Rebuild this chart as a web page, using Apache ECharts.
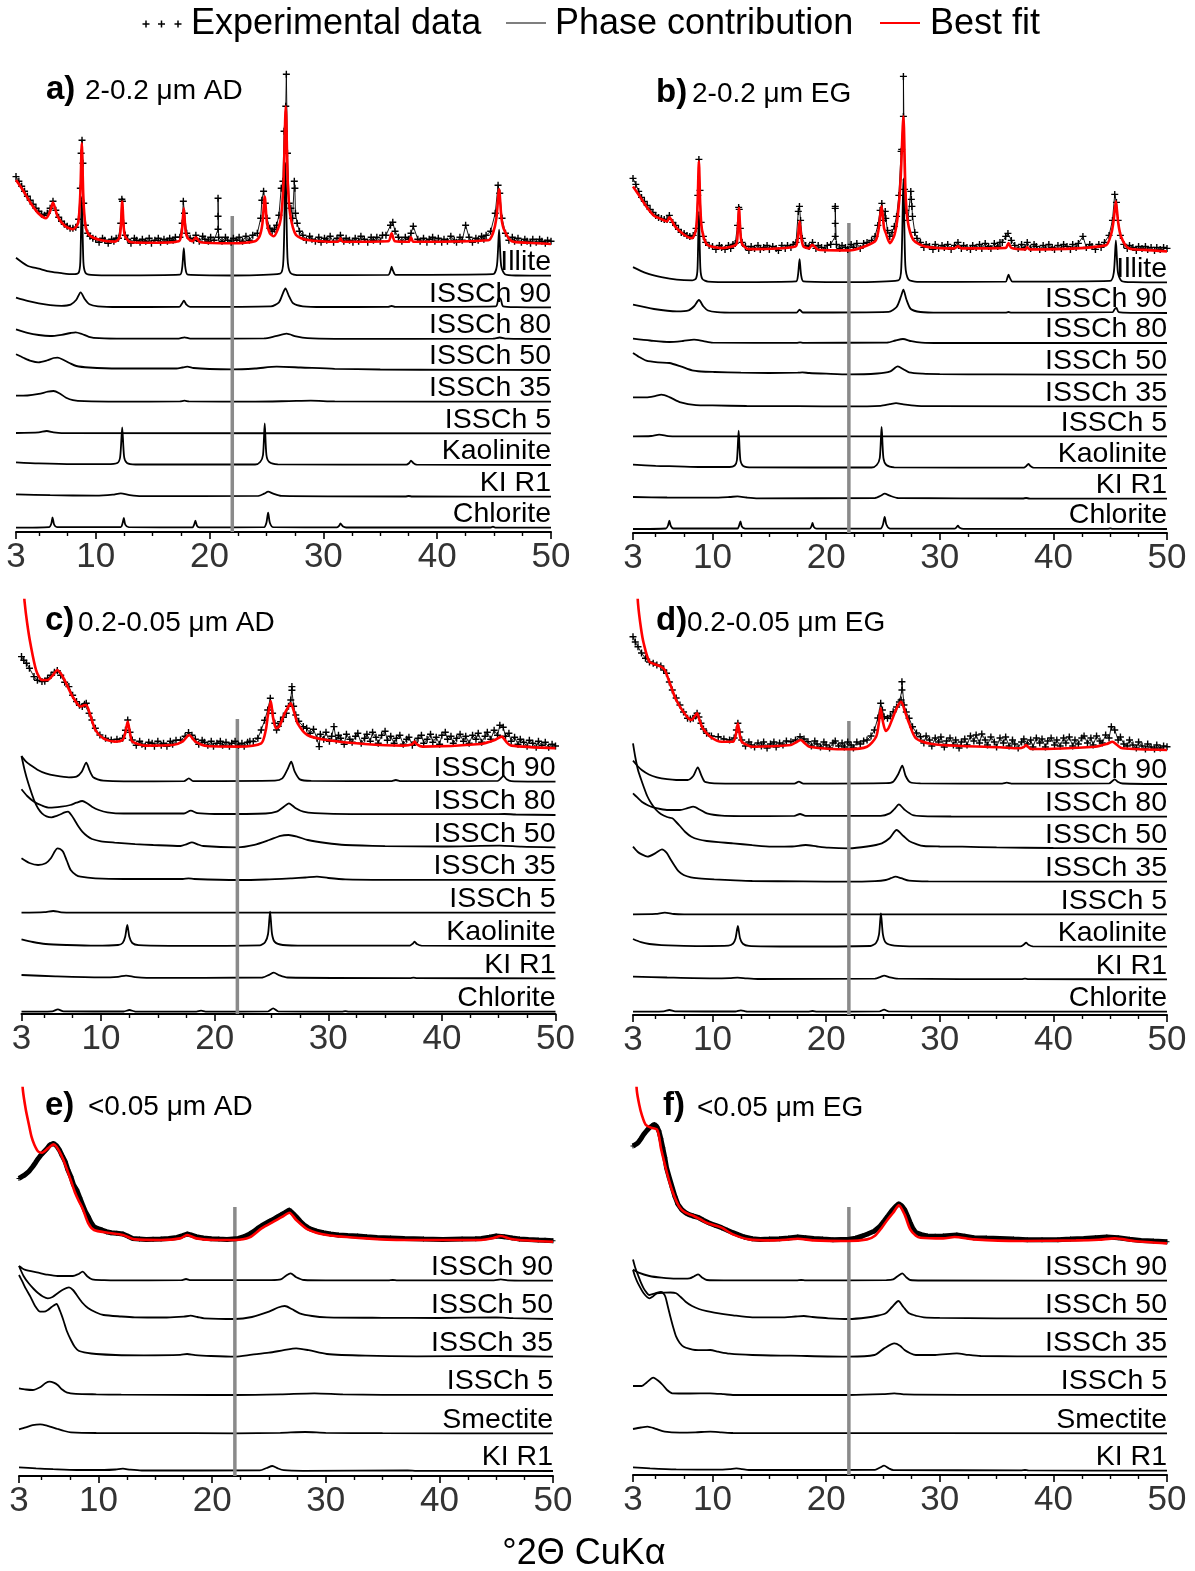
<!DOCTYPE html>
<html><head><meta charset="utf-8">
<script src="https://cdn.jsdelivr.net/npm/echarts@6/dist/echarts.min.js"></script>
<style>html,body{margin:0;padding:0;background:#fff;}#c{width:1195px;height:1571px;}</style>
</head><body><div id="c"></div>
<script>
// ---------- axis ticks ----------
const tickLabels = [3, 10, 20, 30, 40, 50];
const majorTicks = [3, 10, 20, 30, 40, 50];
const minorTicks = [5, 7.5, 12.5, 15, 17.5, 22.5, 25, 27.5, 32.5, 35, 37.5, 42.5, 45, 47.5];
const refLineX = 22;

// ---------- phase names ----------
const namesAB = ['Illite', 'ISSCh 90', 'ISSCh 80', 'ISSCh 50', 'ISSCh 35', 'ISSCh 5', 'Kaolinite', 'KI R1', 'Chlorite'];
const namesCD = ['ISSCh 90', 'ISSCh 80', 'ISSCh 50', 'ISSCh 35', 'ISSCh 5', 'Kaolinite', 'KI R1', 'Chlorite'];
const namesEF = ['ISSCh 90', 'ISSCh 50', 'ISSCh 35', 'ISSCh 5', 'Smectite', 'KI R1'];
const titles = [['a)', '2-0.2 μm AD'], ['b)', '2-0.2 μm EG'], ['c)', '0.2-0.05 μm AD'], ['d)', '0.2-0.05 μm EG'], ['e)', '<0.05 μm AD'], ['f)', '<0.05 μm EG']];

// ---------- stacking offsets (intensity units) ----------
const offsetsA = [256.3, 224.7, 193, 162, 130.3, 98.7, 67, 35.3, 4.3];
const offsetsB = [250.6, 220, 190, 158.3, 126.6, 96.6, 65, 34.3, 4];
const offsetsC = [232.3, 199, 166.7, 134, 101.3, 68, 35.7, 2.3];
const offsetsD = [231, 198.3, 166, 133.3, 100.7, 68.3, 35.7, 3.3];
const offsetsE = [195.3, 157, 119.3, 81, 42.7, 5];
const offsetsF = [194.3, 156, 118.3, 80, 41.7, 4.3];
const fitOffsets = [288.7, 282.6, 265.7, 265, 234.3, 232.3];
const refTops = [316, 310, 295, 294, 269, 268];

// ---------- panel a ----------
const illiteA = [[3,18],[4,10],[5,7],[6,4],[7,2.5],[8,1.5],[8.5,3],[8.65,14],[8.78,79],[8.92,14],[9.1,3],[9.6,0.8],[12,0.3],[17.4,1],[17.6,8],[17.74,27.5],[17.88,8],[18.1,1],[22,0.2],[26.2,2],[26.5,18],[26.67,113],[26.85,18],[27.1,3],[28,0.5],[35.7,0.8],[35.9,5],[36,9],[36.12,5],[36.35,0.8],[44.9,1.5],[45.25,10],[45.44,46],[45.62,10],[45.95,1.5],[47,0.2],[50,0]];
const issch90A = [[3,9.7],[4,6.5],[5,4],[6,2.2],[7,1.5],[7.8,2.7],[8.3,7.5],[8.68,15],[9.05,8],[9.45,3],[10.2,1],[12,0.3],[17.35,0.5],[17.6,4],[17.75,6.7],[17.95,3],[18.3,0.5],[25.4,1],[26.1,5],[26.45,14],[26.67,19],[26.95,12],[27.35,4],[28.2,1],[30,0.3],[35.7,0.4],[36,1.3],[36.3,0.4],[45.15,1],[45.4,9],[45.55,9],[45.8,1],[47,0.2],[50,0]];
const issch80A = [[3,9.7],[4,6.2],[5,4],[6,3],[7,4.2],[7.8,6],[8.24,6.7],[8.8,5],[9.4,2.2],[10.3,0.8],[12.5,0.3],[17.3,0.4],[17.8,1.7],[18.3,0.4],[24.8,0.6],[25.8,2.8],[26.77,5.3],[27.6,2.6],[28.6,0.8],[31,0.2],[44.9,0.3],[45.5,1.5],[46.1,0.3],[50,0]];
const issch50A = [[3,15.7],[3.7,12],[4.3,9.2],[4.96,7.7],[5.7,9.5],[6.3,12],[6.65,12.3],[7.1,10.5],[7.7,7],[8.3,4],[9.4,2.5],[12,1.5],[17.1,1.5],[17.6,2.5],[18.05,3.3],[18.6,2],[20,1],[22,0.6],[24,1.5],[25.9,3.3],[28,2.5],[31,1.2],[35,0.5],[42,0.1],[50,0]];
const issch35A = [[3,6],[4,6.2],[5,7.8],[5.8,10],[6.3,10.7],[6.8,8.5],[7.4,4],[8,1.5],[9,0.5],[12,0.1],[17.4,0.3],[17.8,1],[18.2,0.3],[24,0.1],[27,0.6],[28.9,1],[31,0.3],[50,0]];
const issch5A = [[3,0.3],[5,1],[5.7,2.3],[6.3,1],[7,0.2],[50,0]];
const kaolA = [[3,2.7],[5,1.6],[8,0.8],[11,0.8],[11.9,2],[12.15,8],[12.33,37.7],[12.5,8],[12.75,2],[13.5,0.5],[24,0.5],[24.45,3],[24.7,10],[24.85,41.7],[25,10],[25.25,3],[26,0.7],[37.3,0.3],[37.55,2],[37.7,4.3],[37.9,2],[38.2,0.3],[50,0]];
const klr1A = [[3,2.3],[6,1.5],[10,1],[11.5,2],[12.2,3.3],[13,1.6],[14,0.5],[24.3,0.8],[24.8,3],[25.15,5],[25.6,3],[26.3,0.8],[37.2,0.2],[37.5,0.7],[37.8,0.2],[50,0]];
const chloriteA = [[3,0],[5.9,0.5],[6.1,4],[6.21,10.3],[6.35,3],[6.6,0.5],[12.2,0.5],[12.35,4],[12.47,9.7],[12.6,3],[12.9,0.5],[18.5,0.3],[18.65,3],[18.76,7],[18.9,2],[19.1,0.3],[24.8,0.5],[25,5],[25.15,15],[25.3,5],[25.6,0.5],[31.2,0.3],[31.4,2],[31.5,4.3],[31.7,1.5],[32,0.2],[44.7,0.2],[44.9,1],[45.1,0.2],[50,0]];
const fitA = [[3,63.3],[3.6,53.3],[4.3,40],[4.96,30],[5.64,25],[6,32],[6.25,40.7],[6.65,27],[7.33,17],[8,14],[8.45,20],[8.65,50],[8.78,100],[8.92,45],[9.1,18],[9.42,8.3],[10.4,3.3],[11.7,1.7],[12.06,5],[12.2,15],[12.33,41.7],[12.47,15],[12.6,6.7],[13.1,1],[15,0.5],[17.3,2],[17.55,10],[17.74,35],[17.9,12],[18.1,5],[18.5,2],[18.8,6],[19.2,1],[22,0],[24,2],[24.4,7],[24.65,20],[24.85,46.7],[25.05,20],[25.3,10],[25.65,7],[26,14],[26.27,25],[26.5,60],[26.7,137],[26.88,60],[27.1,28],[27.6,8.3],[28.6,3.3],[31.3,1.5],[31.5,5],[31.7,1.5],[35.7,2],[36,10],[36.3,2],[37.5,1.5],[37.7,6],[37.9,1.5],[44.5,3],[44.9,10],[45.2,25],[45.44,54],[45.65,25],[45.9,13],[46.56,2],[48,0.5],[50,-0.7]];
const expA = [[3,66.7],[3.25,62],[3.5,57],[3.75,52],[4,47],[4.25,43],[4.5,39],[4.75,35],[5,32],[5.25,29],[5.5,28],[5.75,30],[6,35],[6.25,42],[6.5,33],[6.75,26],[7,22],[7.25,19],[7.5,17],[7.75,15],[8,15],[8.25,16],[8.5,24],[8.65,55],[8.72,90],[8.8,103],[8.88,80],[8.95,40],[9.1,18],[9.3,10],[9.5,7],[9.75,5],[10,4],[10.3,1],[10.6,5],[10.8,3],[11.1,0],[11.4,4],[11.6,2],[11.8,5],[12,5],[12.2,20],[12.3,44],[12.35,42],[12.45,20],[12.6,8],[12.8,4],[13.1,0],[13.4,5],[13.6,3],[13.9,1],[14.1,4],[14.4,2],[14.7,5],[14.9,0],[15.2,3],[15.5,5],[15.7,1],[16,4],[16.3,2],[16.5,5],[16.8,3],[17,6],[17.4,6],[17.6,20],[17.7,42],[17.8,30],[18,10],[18.3,5],[18.6,3],[18.8,8],[19.1,2],[19.4,7],[19.6,4],[19.9,2],[20.1,6],[20.4,3],[20.75,14],[20.75,27],[20.75,45],[20.8,6],[21.1,2],[21.4,6],[21.6,3],[21.9,1],[22.1,5],[22.4,3],[22.6,6],[22.9,2],[23.2,7],[23.5,3],[23.8,8],[24.2,10],[24.5,25],[24.6,43],[24.75,52],[24.9,40],[25.05,25],[25.3,15],[25.5,12],[25.7,14],[25.9,18],[26.1,28],[26.3,55],[26.45,62],[26.55,112],[26.7,137],[26.75,169],[26.85,90],[27,40],[27.15,35],[27.3,25],[27.45,62],[27.5,55],[27.55,30],[27.7,20],[27.9,12],[28.2,8],[28.5,3],[28.8,7],[29,4],[29.3,2],[29.6,6],[29.8,1],[30.1,5],[30.3,3],[30.6,7],[30.9,1],[31.2,5],[31.5,8],[31.8,2],[32,5],[32.3,3],[32.6,1],[32.8,5],[33.1,2],[33.3,7],[33.6,4],[33.9,1],[34.2,6],[34.4,3],[34.7,6],[35,2],[35.2,8],[35.5,8],[35.9,18],[36.1,21],[36.3,12],[36.6,6],[36.9,2],[37.2,6],[37.5,4],[37.7,10],[37.9,17],[38.3,4],[38.5,2],[38.8,5],[39.1,1],[39.3,4],[39.6,6],[39.8,2],[40.1,5],[40.4,1],[40.6,4],[40.9,2],[41.2,7],[41.5,3],[41.7,1],[42,6],[42.2,3],[42.5,18],[42.8,6],[43.1,1],[43.4,5],[43.6,3],[43.9,7],[44.1,4],[44.3,8],[44.7,12],[45.1,30],[45.35,58],[45.5,50],[45.7,25],[46,10],[46.3,3],[46.6,6],[46.8,2],[47.1,5],[47.4,1],[47.7,4],[47.9,2],[48.2,0],[48.4,4],[48.7,1],[49,4],[49.2,2],[49.5,0],[49.7,3],[50,2]];

// ---------- panel b ----------
const illiteB = [[3,15.3],[4.17,9.3],[5.5,5.3],[6.86,2.7],[8.2,2],[8.55,4],[8.68,14],[8.8,71],[8.93,14],[9.1,3.5],[9.6,0.8],[12,0.3],[17.35,1],[17.52,7],[17.66,23.3],[17.8,7],[18,1],[22,0.2],[26.35,2],[26.62,17],[26.8,104],[26.97,17],[27.25,3],[28,0.5],[35.8,0.8],[35.95,4.5],[36.05,7.7],[36.17,4.5],[36.4,0.8],[45,1.5],[45.32,10],[45.5,42],[45.68,10],[46,1.5],[47,0.2],[50,0]];
const issch90B = [[3,8.3],[4.85,4],[6.86,1.7],[7.9,2.7],[8.4,7],[8.8,13],[9.2,6.5],[9.6,2.5],[10.4,0.8],[12,0.3],[17.4,0.5],[17.66,3.3],[17.95,0.5],[25.5,1.2],[26.2,6],[26.6,17],[26.8,23.3],[27.05,14],[27.45,4],[28.3,1],[30,0.3],[35.8,0.4],[36.05,1],[36.3,0.4],[45.2,0.8],[45.4,4],[45.55,5],[45.75,0.8],[47,0.2],[50,0]];
const issch80B = [[3,4.3],[4.5,2.5],[6.2,1],[7.4,2],[8.37,3.3],[9.2,1.8],[10,0.3],[17.4,0.2],[17.7,0.7],[18,0.2],[25.4,0.5],[26.1,2.5],[26.76,4],[27.5,1.8],[28.4,0.4],[30,0],[50,0]];
const issch50B = [[3,21.7],[3.5,18],[4.17,14],[5.2,12.3],[6.2,11.7],[7.2,8.3],[8.2,4.3],[9,3.2],[10.2,2.7],[12.5,2],[15,1.7],[17.5,2],[17.9,2.3],[18.5,1.7],[20,1],[22,0.3],[24.5,1.2],[25.65,3.3],[26.3,8.3],[26.8,5.5],[27.3,2.3],[28.5,1],[30,0.6],[35,0.3],[50,0]];
const issch35B = [[3,9],[4.17,9],[5,10.5],[5.5,11.7],[6.2,9.3],[7.2,4],[8.54,1.3],[10,1],[13,0.4],[17.5,0.2],[22,0],[24.8,0.6],[25.6,2.2],[26.15,3.3],[26.8,2],[28,0.6],[30,0.2],[50,0]];
const issch5B = [[3,0],[4.6,0.4],[5.3,1.7],[6.1,0.3],[7,0],[50,0]];
const kaolB = [[3,3.3],[5,2.2],[6.86,1.7],[9,1],[11.5,1],[11.95,2.5],[12.15,8],[12.3,37.3],[12.45,8],[12.7,2],[13.5,0.6],[24,0.5],[24.45,3],[24.72,10],[24.88,41],[25.04,10],[25.3,3],[26,0.7],[37.4,0.3],[37.62,2],[37.8,4],[37.98,2],[38.25,0.3],[50,0]];
const klr1B = [[3,1.7],[6,1.2],[10,1],[11.5,1.7],[12.2,2.3],[13,1.2],[14,0.4],[24.3,0.7],[24.8,3],[25.15,5],[25.6,3],[26.3,0.7],[37.3,0.2],[37.6,0.7],[37.9,0.2],[50,0]];
const chloriteB = [[3,0],[5.9,0.5],[6.08,3.5],[6.2,8.3],[6.33,3],[6.55,0.5],[12.2,0.5],[12.34,3.5],[12.46,7.7],[12.58,2.5],[12.85,0.5],[18.55,0.3],[18.7,2.5],[18.8,6],[18.92,2],[19.15,0.3],[24.8,0.5],[25,4.5],[25.15,12],[25.3,4.5],[25.6,0.5],[31.3,0.3],[31.48,1.8],[31.6,3.3],[31.75,1.3],[32.1,0.2],[44.8,0.2],[45,0.7],[45.2,0.2],[50,0]];
const fitB = [[3,64],[3.5,55.7],[4.17,44],[4.85,34.7],[5.5,31.3],[6,29],[6.2,33],[6.7,24],[7.5,15.7],[8.2,12.3],[8.54,20.7],[8.68,45],[8.8,89],[8.92,45],[9.07,20.7],[9.54,5.7],[10.9,2.3],[12.06,5.7],[12.2,15],[12.33,42.3],[12.47,15],[12.63,5.7],[13.2,1.3],[17.3,4],[17.5,12],[17.66,29],[17.82,12],[18,4],[18.5,2],[18.77,5.7],[19.3,0.7],[22,0],[24.3,9],[24.6,20],[24.88,44],[25.1,22],[25.25,17.3],[25.6,7.3],[26,15],[26.3,34],[26.55,70],[26.8,134],[26.98,60],[27.16,30.7],[27.66,10.7],[28.7,4],[31.3,2],[31.6,4],[31.9,2],[35.8,2.5],[36.05,7.3],[36.3,2.5],[37.5,1],[37.7,3],[37.9,1],[44.6,5],[45.1,17],[45.3,30],[45.5,49],[45.7,28],[45.95,14],[46.6,2.3],[48,0.5],[50,-1]];
const expB = [[3,72],[3.25,66],[3.5,59],[3.75,53],[4,49],[4.25,45],[4.5,41],[4.75,38],[5,35],[5.25,33],[5.5,32],[5.75,31],[6,31],[6.2,35],[6.5,28],[6.75,25],[7,21],[7.25,18],[7.5,17],[7.75,15],[8,14],[8.3,15],[8.55,22],[8.7,55],[8.8,91],[8.9,60],[9,28],[9.2,14],[9.4,8],[9.7,5],[10,4],[10.3,1],[10.6,5],[10.8,3],[11.1,1],[11.4,5],[11.6,2],[11.8,6],[12,7],[12.2,25],[12.3,43],[12.35,41],[12.45,22],[12.6,8],[12.9,4],[13.2,0],[13.4,4],[13.7,2],[14,5],[14.2,1],[14.5,3],[14.8,5],[15,1],[15.3,4],[15.6,2],[15.8,0],[16.1,5],[16.4,2],[16.6,5],[16.9,3],[17.1,6],[17.35,8],[17.55,39],[17.65,44],[17.75,30],[17.9,12],[18.2,5],[18.5,4],[18.8,8],[19.1,2],[19.3,5],[19.6,3],[19.9,1],[20.1,5],[20.4,6],[20.8,14],[20.8,27],[20.8,42],[20.8,44],[20.9,6],[21.2,2],[21.4,5],[21.7,3],[21.9,1],[22.2,6],[22.4,3],[22.7,7],[23,2],[23.3,7],[23.6,8],[24,10],[24.3,14],[24.55,25],[24.75,40],[24.9,47],[25.05,30],[25.2,39],[25.25,32],[25.4,20],[25.6,14],[25.8,18],[26,24],[26.2,34],[26.4,55],[26.6,99],[26.65,101],[26.8,134],[26.8,174],[26.9,61],[27,40],[27.2,30],[27.45,59],[27.5,51],[27.55,44],[27.6,34],[27.8,18],[28,12],[28.3,8],[28.6,3],[28.8,6],[29.1,4],[29.4,1],[29.6,6],[29.9,2],[30.2,5],[30.4,3],[30.7,6],[31,1],[31.3,5],[31.6,8],[31.9,2],[32.1,5],[32.4,3],[32.7,1],[32.9,5],[33.2,3],[33.5,6],[33.7,2],[34,7],[34.3,4],[34.5,2],[34.8,7],[35.1,4],[35.3,8],[35.5,8],[35.8,14],[36,17],[36.3,10],[36.6,5],[36.9,2],[37.2,6],[37.5,3],[37.7,8],[38,2],[38.3,6],[38.5,4],[38.8,1],[39.1,5],[39.3,2],[39.6,6],[39.9,3],[40.1,1],[40.4,5],[40.7,2],[40.9,6],[41.2,4],[41.5,1],[41.7,6],[42,3],[42.2,7],[42.6,14],[42.9,3],[43.2,6],[43.4,4],[43.7,1],[44,6],[44.2,3],[44.5,8],[44.9,15],[45.2,30],[45.4,56],[45.55,48],[45.7,30],[45.9,15],[46.2,6],[46.5,2],[46.7,5],[47,3],[47.3,0],[47.5,4],[47.8,2],[48.1,4],[48.3,1],[48.6,3],[48.9,0],[49.1,3],[49.4,1],[49.7,3],[50,2]];

// ---------- panel c ----------
const issch90C = [[3,25.7],[3.4,20],[3.78,16.7],[4.4,12],[5.13,8.3],[6,6],[7.17,4.3],[7.84,5],[8.3,10],[8.7,19],[9,11],[9.3,4.5],[9.7,2.3],[10.2,1],[12,0.4],[17.3,0.5],[17.73,3.3],[18.1,0.6],[25.3,1],[25.96,3.3],[26.4,12],[26.74,20],[27.05,10],[27.5,2.3],[28.5,0.8],[35.5,0.5],[35.95,1.7],[36.4,0.5],[44.9,0.8],[45.2,3.5],[45.43,5.7],[45.7,2.5],[46.1,0.6],[50,0]];
const issch80C = [[3,25.7],[3.5,19],[4.1,13.3],[4.8,9.5],[5.47,7.3],[6.5,8.3],[7.3,10],[7.84,12.3],[8.35,14],[8.8,11.5],[9.2,8.3],[9.8,5],[10.55,2.7],[12,1.5],[17.3,1.5],[17.9,4.3],[18.5,1.8],[20,1],[24.5,1.5],[25.45,3.3],[26,7.5],[26.54,11.7],[27.1,7],[27.8,3.3],[28.8,1.8],[32,0.8],[44.5,0.8],[45.5,1],[46.5,0.5],[50,0]];
const issch50C = [[3,91.3],[3.3,76],[3.6,64],[4.1,47.3],[4.45,39],[4.8,34],[5.2,31],[5.64,30],[6.1,31.5],[6.5,33.3],[6.8,35],[7.1,35.7],[7.4,32],[7.67,27.3],[8,21],[8.35,15.7],[8.8,11],[9.2,8.3],[10,6],[11.2,4.7],[13,3.2],[14.6,2.3],[17,1.3],[17.5,3],[18,5],[18.5,3],[19,1.3],[22,0],[23.5,2.5],[24.8,7.3],[25.8,11.5],[26.5,12.3],[27.3,10.5],[28.2,7.3],[29.8,4.3],[31.5,2.3],[35,1.2],[40,0.8],[45.1,1.7],[47,0.6],[50,0]];
const issch35C = [[3,21.7],[3.7,17],[4.46,15],[5.13,16.7],[5.6,22],[5.95,29],[6.15,31.7],[6.4,31],[6.66,28.3],[7,19],[7.33,10],[7.8,5],[8.2,3.3],[9.5,1.7],[12,1],[17.2,1],[17.7,1.7],[18.2,1],[22,0],[24.5,0.5],[26.8,1.7],[28,2.5],[29,3.3],[30,2],[31.5,0.7],[35,0.2],[50,0]];
const issch5C = [[3,0],[5,0.5],[5.8,1.7],[6.5,0.4],[7.5,0],[50,0]];
const kaolC = [[3,6.7],[4,4],[5.13,2],[7,1],[9.5,0.3],[11.5,1],[11.9,3],[12.12,9],[12.31,21],[12.5,9],[12.75,3],[13.3,0.8],[16,0.2],[24,0.7],[24.45,4],[24.7,12],[24.88,34.3],[25.05,12],[25.3,4],[26,1],[28,0.3],[37.2,0.5],[37.45,2.5],[37.6,4.3],[37.8,2],[38.2,0.3],[50,0]];
const klr1C = [[3,3.3],[6,2],[10,1],[11.5,1.5],[12.2,2.7],[13,1.2],[14,0.4],[24.2,0.8],[24.8,3.5],[25.2,5.7],[25.7,3],[26.4,0.8],[37.2,0.2],[37.5,0.7],[37.8,0.2],[50,0]];
const chloriteC = [[3,0],[5.7,0.3],[6.2,2.3],[6.7,0.3],[12,0.2],[12.5,1.7],[13,0.2],[18.4,0.1],[18.8,1],[19.2,0.1],[24.7,0.3],[25.15,3.3],[25.6,0.3],[31.2,0.1],[31.5,0.5],[31.8,0.1],[50,0]];
const fitC = [[3.2,160],[3.27,146.7],[3.5,125],[3.78,105],[4.29,78],[4.8,68.3],[5.3,68.3],[5.75,73],[6.15,78.3],[6.5,74],[6.8,68],[7.5,51.7],[8.2,41.7],[8.5,43],[8.7,43.3],[9,35],[9.5,18.3],[10.2,10],[11.2,6.7],[11.9,8.3],[12.15,16],[12.35,26.7],[12.55,15],[12.75,6.7],[13.9,2.7],[16.3,3.3],[17.2,7],[17.75,13.3],[18.3,6.7],[19.35,2.3],[22.07,1.7],[24.1,5],[24.5,18],[24.67,31.7],[24.94,47.3],[25.15,30],[25.4,20],[25.7,22],[26.1,33.3],[26.45,41],[26.7,45],[27,36],[27.3,25],[28.16,13.3],[29.85,8.3],[33.2,4.3],[36.6,2.7],[37.4,4],[37.6,6.7],[37.8,4],[38.3,1.7],[43.4,4.3],[44.6,8],[45.26,11.7],[45.7,6],[46.1,2.7],[50,0]];
const expC = [[3,91.7],[3.2,88],[3.44,85],[3.7,80],[4.1,71.7],[4.4,68],[4.8,66.7],[5.05,67],[5.3,70],[5.6,73],[5.9,76],[6.15,77.7],[6.45,73],[6.8,66],[7.17,61.7],[7.5,53],[7.84,46.7],[8.1,43],[8.35,41.7],[8.55,44],[8.7,45],[8.95,35],[9.2,28.3],[9.5,20],[9.9,13.3],[10.4,10],[10.9,8.3],[11.4,9],[11.9,10],[12.15,18],[12.35,28.3],[12.55,16],[12.75,8.3],[13.1,3],[13.4,7],[13.6,4],[13.9,2],[14.2,6],[14.5,5],[14.7,2],[15,7],[15.3,3],[15.5,5],[15.8,2],[16.1,7],[16.3,4],[16.6,8],[17,8.3],[17.4,12],[17.7,15.7],[18,13],[18.3,9],[18.6,4],[18.9,8],[19.1,6],[19.4,3],[19.7,7],[19.9,2],[20.2,5],[20.5,7],[20.7,3],[21,6],[21.3,2],[21.5,5],[21.8,7],[22.1,3],[22.4,5],[22.6,2],[22.9,6],[23.1,7],[23.4,6.7],[23.8,10],[24.1,18.3],[24.4,28],[24.67,38.3],[24.9,50],[25.1,35],[25.3,25],[25.45,18.3],[25.6,22],[25.8,26.7],[26.05,31],[26.3,35],[26.5,42],[26.7,48.3],[26.8,61.7],[26.8,58],[26.95,42],[27.14,33.3],[27.4,27],[27.8,21.7],[28.1,20],[28.4,15],[28.7,19],[29,10],[29.2,1.7],[29.3,14],[29.6,9],[29.8,16],[30.1,7],[30.3,12],[30.5,21.7],[30.7,8],[30.9,13],[31.1,10],[31.4,4],[31.6,14],[31.9,9],[32.1,6],[32.4,12],[32.6,15],[32.9,5],[33.2,10],[33.4,14],[33.7,7],[33.9,16],[34.2,11],[34.4,5],[34.7,13],[35,17],[35.2,8],[35.5,12],[35.8,5],[36,10],[36.3,13],[36.6,4],[36.9,9],[37.1,11],[37.4,3],[37.6,6],[37.9,10],[38.2,13],[38.4,5],[38.7,9],[39,14],[39.2,6],[39.5,11],[39.8,4],[40,13],[40.3,16],[40.5,9],[40.8,12],[41,5],[41.3,10],[41.6,14],[41.9,7],[42.1,12],[42.4,5],[42.7,13],[43,9],[43.2,15],[43.5,6],[43.8,12],[44,16],[44.3,9],[44.6,18],[44.9,13],[45.1,23],[45.4,21],[45.6,12],[45.9,15],[46.1,7],[46.4,11],[46.7,4],[46.9,9],[47.2,6],[47.5,2],[47.7,8],[48,5],[48.3,1],[48.5,7],[48.8,3],[49.1,6],[49.4,1],[49.7,4],[50,2.3]];

// ---------- panel d ----------
const issch90D = [[3,23.3],[3.4,18],[3.77,14],[4.4,9.5],[5.1,6.7],[6,4.8],[6.8,4],[7.8,4],[8.3,8],[8.7,16.7],[9,9],[9.3,2.3],[9.7,1.2],[10.15,0.7],[12,0.3],[17.2,0.4],[17.6,2.3],[18,0.4],[25.3,0.8],[25.9,2.3],[26.35,10],[26.7,18.3],[27,8],[27.4,1.7],[28.3,0.6],[35.5,0.4],[35.9,1.3],[36.3,0.4],[44.9,0.6],[45.2,3],[45.4,4.7],[45.7,2],[46.1,0.5],[50,0]];
const issch80D = [[3,23.3],[3.4,19],[3.77,15],[4.3,11.5],[4.78,9.3],[5.4,7.7],[6.1,6.7],[7.13,6.7],[7.8,8.5],[8.3,10],[8.9,7],[9.5,3.3],[10.8,1],[12.5,0.6],[17.2,0.8],[17.7,2.7],[18.2,0.8],[24.8,0.8],[25.6,3.3],[26,7.5],[26.4,12.3],[26.9,7],[27.6,1.7],[28.5,0.6],[31,0.2],[50,0]];
const issch50D = [[3,105.7],[3.2,92],[3.44,79],[3.7,70],[3.94,62.3],[4.25,53],[4.6,45.7],[5,39.5],[5.45,35],[6,32],[6.46,30.7],[6.8,27],[7.13,23],[7.6,17],[8.14,12.3],[8.8,9.5],[9.5,8],[10.5,6.8],[11.8,5.7],[13.5,3.8],[15.2,2.3],[17,2.5],[18.2,4],[19.2,2.5],[20.2,1.3],[22,0.7],[23.6,2.5],[24.9,5.7],[25.6,11],[26.2,19],[26.8,13],[27.3,8],[28,4.7],[28.6,3],[30,2.5],[31.97,2.3],[35,1.6],[40,1],[45,0.7],[50,0]];
const issch35D = [[3,35],[3.4,30],[3.77,27.3],[4.28,25],[4.95,28.3],[5.55,32.3],[5.95,29],[6.3,22.5],[6.62,16.7],[7,10.5],[7.46,6.7],[8.1,4.3],[8.8,3.3],[10.15,2.3],[12,1.3],[13.5,0.7],[18,0.3],[22,0],[24.3,0.6],[25.25,1.7],[25.7,3.5],[26.1,5],[26.6,3.5],[27.3,1],[29,0.3],[50,0]];
const issch5D = [[3,0],[5,0.4],[5.8,1.7],[6.6,0.3],[7.5,0],[50,0]];
const kaolD = [[3,7.7],[3.7,4.5],[4.44,2.7],[5.5,1.6],[6.8,1],[9,0.6],[11.4,1],[11.8,3],[12.03,8.5],[12.23,20.7],[12.42,8.5],[12.67,3],[13.2,0.8],[16,0.2],[23.9,0.7],[24.4,4],[24.65,12],[24.82,33.3],[25,12],[25.25,4],[26,1],[28,0.3],[37.1,0.4],[37.4,2.2],[37.6,4],[37.8,2],[38.2,0.3],[50,0]];
const klr1D = [[3,2.7],[6,1.8],[10,1],[11.5,1.2],[12.2,1.7],[13,0.9],[14,0.3],[24.3,0.6],[24.8,2.5],[25.1,3.7],[25.6,2],[26.3,0.6],[37.2,0.2],[37.5,0.7],[37.8,0.2],[50,0]];
const chloriteD = [[3,0],[5.7,0.3],[6.2,1.7],[6.7,0.3],[12,0.2],[12.5,1.3],[13,0.2],[18.4,0.1],[18.8,0.7],[19.2,0.1],[24.7,0.3],[25.1,2],[25.5,0.3],[50,0]];
const fitD = [[3.35,170],[3.44,146.7],[3.7,122],[3.94,106.7],[4.44,88.3],[5.1,85],[5.5,83],[5.8,80],[6.3,65],[6.8,50],[7.63,35],[8.14,30],[8.45,34],[8.64,36.7],[8.85,30],[9.14,21.7],[9.8,13.3],[10.8,8.3],[11.8,8.3],[12.05,15],[12.23,26.7],[12.4,15],[12.57,8.3],[13.5,3.3],[16.9,5],[17.4,8],[17.77,10],[18.1,7],[18.5,3.3],[21.9,0.7],[23.6,3.3],[24.4,13.3],[24.65,28],[24.8,41.7],[25,28],[25.25,19],[25.5,22],[25.9,33.3],[26.3,44],[26.6,48.3],[26.95,38],[27.3,26.7],[27.9,11.7],[29.3,6],[31.97,4],[35.3,2.7],[37,1.7],[37.4,3],[37.6,5],[37.8,3],[38,1],[43.7,3.3],[44.7,6],[45.2,8.3],[45.6,5],[46.07,1.7],[50,0]];
const expD = [[3,113.3],[3.2,108],[3.44,103.3],[3.75,97],[4.1,91.7],[4.45,88],[4.78,86.7],[5.1,85],[5.45,84],[5.7,80],[5.95,76.7],[6.2,68],[6.46,60],[6.8,52],[7.13,45],[7.45,38],[7.8,31.7],[8.05,31],[8.3,31.7],[8.5,34],[8.64,36.7],[8.8,33],[8.98,26.7],[9.2,21],[9.48,16.7],[9.9,14],[10.5,13.3],[11,11],[11.5,10],[11.9,12],[12.1,20],[12.23,26.7],[12.4,18],[12.57,10],[12.9,4],[13.2,8],[13.4,5],[13.7,3],[14,7],[14.3,4],[14.5,8],[14.8,2],[15.1,6],[15.4,8],[15.6,3],[15.9,7],[16.2,5],[16.5,9],[16.9,8.3],[17.3,10],[17.7,13.3],[18.05,11],[18.4,8.3],[18.7,4],[19,9],[19.2,6],[19.5,3],[19.8,8],[20,5],[20.3,2],[20.6,7],[20.8,9],[21.1,4],[21.4,7],[21.6,3],[21.9,8],[22.2,5],[22.4,2],[22.7,8],[23,6],[23.3,9],[23.6,10],[23.95,14],[24.25,20],[24.55,32],[24.8,46.7],[24.95,40],[25.1,33.3],[25.4,31.7],[25.65,34],[25.9,38.3],[26.2,43],[26.45,48],[26.6,50],[26.67,60],[26.67,68.3],[26.85,45],[27.05,38],[27.3,31.7],[27.6,23.3],[27.95,17],[28.3,13.3],[28.6,7],[28.8,14],[29.1,10],[29.3,4],[29.6,12],[29.9,8],[30.1,13],[30.4,3],[30.6,9],[30.9,12],[31.2,5],[31.4,10],[31.7,2],[31.9,8],[32.2,11],[32.4,5],[32.7,14],[33,9],[33.2,15],[33.5,7],[33.7,16],[34,10],[34.2,5],[34.5,13],[34.8,8],[35,3],[35.3,12],[35.6,7],[35.8,13],[36.1,4],[36.4,10],[36.6,6],[36.9,2],[37.2,8],[37.4,11],[37.7,6],[38,10],[38.2,3],[38.5,12],[38.8,7],[39,11],[39.3,3],[39.5,9],[39.8,12],[40.1,5],[40.3,10],[40.6,4],[40.9,12],[41.1,7],[41.4,13],[41.7,4],[41.9,10],[42.2,6],[42.5,12],[42.7,14],[43,7],[43.3,12],[43.5,5],[43.8,14],[44.1,9],[44.3,7],[44.6,15],[44.9,12],[45.1,23.3],[45.4,20],[45.7,10],[45.9,13],[46.2,6],[46.5,4],[46.7,10],[47,5],[47.3,2],[47.5,8],[47.8,4],[48.1,1],[48.3,6],[48.6,3],[48.9,1],[49.1,5],[49.4,2],[49.7,4],[50,3.3]];

// ---------- panel e ----------
const issch90E = [[3,14.7],[3.5,11],[4.7,8],[5.5,6],[6.4,4.7],[7.74,4.7],[8.2,6.5],[8.6,9],[9,4.5],[9.44,1.3],[10.5,0.6],[11.5,0.3],[17.3,0.5],[17.7,1.7],[18.1,0.5],[25.2,0.6],[26.04,1.3],[26.5,5],[26.9,7.3],[27.4,3.5],[28.1,0.7],[30,0.3],[35.5,0.3],[35.9,0.7],[36.3,0.3],[44.8,0.4],[45.4,1.3],[46,0.3],[50,0]];
const issch50E = [[3,53],[3.4,43],[3.85,35.7],[4.3,30],[4.7,25.7],[5.1,22.5],[5.54,20.7],[5.95,22],[6.4,25.7],[6.9,29.5],[7.4,31.7],[7.75,29],[8.08,24],[8.6,16],[9.1,10.7],[9.8,6.5],[10.45,4],[12,2.5],[13.2,1.7],[16,1.5],[17.5,2.3],[18.1,3.3],[18.7,2],[19.3,0.7],[22,0],[23.5,2],[25,7.3],[25.8,11.5],[26.4,13],[27,10],[27.7,5.7],[28.8,3],[30.1,1.7],[35,1.2],[40,1],[45,1.7],[46.5,0.8],[50,0]];
const issch35E = [[3,81.7],[3.3,75],[3.6,68],[4,60],[4.4,51],[4.86,45],[5.2,45],[5.54,46.7],[5.9,50],[6.3,52.7],[6.6,46],[6.9,36.7],[7.2,26],[7.57,16.7],[7.9,10],[8.25,6],[9,3.8],[9.8,2.7],[11.5,1.7],[14,1.4],[17.2,1.8],[17.8,2.7],[18.5,1.6],[19.9,0.7],[22,0],[23.5,2],[25,4],[26.3,6.5],[27.4,8.3],[28.5,6.5],[30.1,2.7],[33.5,1],[38,0.4],[45,0.7],[50,0]];
const issch5E = [[3,6.7],[3.6,5.5],[4.2,5],[4.9,8],[5.35,12],[5.7,13.3],[6.05,12.3],[6.4,10],[6.8,5.5],[7.24,2.3],[8,1.2],[9.8,0.7],[12,0.3],[20,0],[22,0],[26,0.6],[29,1.7],[31.5,0.6],[35,0.2],[50,0]];
const smectiteE = [[3,4],[3.6,6],[4.2,8.2],[4.86,9],[5.5,7.5],[6.4,4.3],[7,2.3],[7.57,1],[9.8,0.3],[15,0.2],[22,0],[26,0.5],[28.2,1.3],[30,0.5],[35,0.1],[50,0]];
const klr1E = [[3,3.7],[4.5,2.6],[6,1.8],[8.08,1],[10.5,1],[11.5,1.5],[12.15,2.3],[12.8,1.3],[13.8,0.5],[24.2,0.6],[24.8,3],[25.3,5],[25.8,2.5],[26.3,0.8],[28,0.2],[37.2,0.7],[38,0.2],[50,0]];
const fitE = [[3.25,170],[3.34,151.7],[3.6,132],[3.85,118.3],[4.1,105],[4.36,96.7],[4.7,90],[5.03,89],[5.54,93.3],[6.05,97.3],[6.3,95],[6.56,90],[6.9,82],[7.24,71.7],[7.6,60],[7.9,50],[8.25,41],[8.6,33.3],[9.1,18.3],[9.6,11.7],[10.8,9],[12.15,6.7],[13.2,2.3],[15.5,1.7],[17.2,3.3],[17.8,6.7],[18.6,3.3],[20.3,1.7],[22,1.7],[23.3,4.3],[24.35,13.3],[25.4,20],[26.2,25],[26.8,29],[27.4,21.7],[28.4,12.3],[30.1,6.7],[33.5,3.3],[36.9,1.7],[43.7,1.7],[44.7,3.5],[45.4,5.7],[46.2,3],[47.05,1.7],[50,0]];
const expE = [[3,63.3],[3.25,65],[3.5,66.7],[3.85,70],[4.2,75],[4.45,79],[4.7,83.3],[4.95,87],[5.2,90],[5.45,93],[5.7,96.7],[6.05,98.3],[6.3,96],[6.56,91.7],[6.8,86],[7.07,80],[7.3,72],[7.57,65],[7.8,57],[8.08,51.7],[8.35,44],[8.6,36.7],[8.85,30],[9.1,25],[9.35,19],[9.6,15],[9.95,13],[10.3,11.7],[10.7,10],[11.1,9],[11.6,8.5],[12.15,7.7],[12.6,5.5],[13,3.3],[13.6,2.8],[14.2,2.3],[14.8,2.5],[15.5,2.7],[16.2,3.2],[16.9,4.3],[17.4,6],[17.8,7.7],[18.2,6.5],[18.6,5],[19.2,3.8],[19.9,3],[20.6,2.6],[21.3,2.3],[22.3,3.3],[22.8,5],[23.3,7.7],[23.7,10.5],[24,13.3],[24.35,16],[24.7,18.3],[25.05,20.5],[25.4,22.3],[25.7,24.5],[26.05,26.7],[26.4,29],[26.8,31.7],[27.1,28.5],[27.4,25],[27.75,20.5],[28.1,16.7],[28.4,14.3],[28.75,12.3],[29.2,10.5],[29.8,9],[30.4,7.8],[31.1,6.7],[31.9,6.2],[32.8,5.7],[33.6,5],[34.5,4.3],[35.7,3.8],[36.9,3.3],[38.6,2.7],[40.3,2.3],[42,2.7],[43.2,3],[43.7,3.3],[44.4,4.5],[45,5.7],[45.7,5],[46.4,3.8],[47.05,2.7],[47.8,2.2],[48.7,1.7],[49.3,1.4],[50,1]];

// ---------- panel f ----------
const issch90F = [[3,11.3],[3.5,8],[4.44,4.7],[5.5,3],[6.8,2],[7.97,2.3],[8.4,4.5],[8.74,6.3],[9.1,3],[9.5,0.7],[11,0.3],[17.4,0.3],[17.8,0.7],[18.2,0.3],[25.3,0.6],[25.9,1.3],[26.35,5],[26.7,7.3],[27.05,3.5],[27.4,0.7],[28.5,0.2],[50,0]];
const issch50F = [[3,49],[3.2,42],[3.44,35.7],[3.94,25.7],[4.44,20.7],[4.8,23],[5.1,25.7],[5.8,26.3],[6.3,26.5],[6.8,25.7],[7.2,22],[7.63,17.3],[8.2,13],[8.8,10],[9.5,7.8],[10.15,6.3],[11.8,3.7],[13.5,1.7],[16,1.6],[17.3,2.5],[18.04,3],[18.8,2],[20.2,0.7],[22,0],[23.6,1.5],[24.6,3.5],[25.25,5.7],[25.8,12],[26.36,18],[26.8,12],[27.3,5.7],[28,3],[28.6,1.7],[30,1.1],[35,0.6],[45,0.5],[50,0]];
const issch35F = [[3,97.3],[3.2,89],[3.44,81.7],[3.7,74],[3.94,68.3],[4.2,64],[4.44,61.7],[4.95,63.3],[5.45,64.7],[5.65,63.5],[5.85,60],[6.05,51],[6.29,40],[6.55,29],[6.8,20],[7.1,14],[7.46,10],[8,7.8],[8.47,6.7],[9.2,6.5],[9.8,6.7],[10.5,5],[11.5,3],[13.5,1.7],[16.9,1],[22,0],[24.25,1.7],[25.1,8.3],[26,13.3],[26.5,11],[26.9,6.7],[27.4,3.5],[27.9,1.7],[29.6,1.7],[31.5,3.3],[32.5,1.8],[33.6,0.7],[40,0.3],[50,0]];
const issch5F = [[3,9],[3.77,9],[4.2,12.5],[4.78,17.3],[5.2,14.5],[5.62,10],[6,5],[6.46,1.7],[8,1.5],[9.8,1.7],[11,0.8],[11.8,0],[22,0],[25,0.8],[26,1.7],[27,0.6],[32,0.2],[50,0]];
const smectiteF = [[3,4.3],[3.7,5.8],[4.28,6.7],[5,4.5],[5.8,1.7],[7.13,0.7],[8.5,1],[9.8,1.7],[10.8,1],[11.8,0.3],[50,0]];
const klr1F = [[3,3.3],[4.5,2.3],[6.8,1.3],[10.5,1],[11.5,1.6],[12.1,2.3],[12.6,1.6],[13.2,0.7],[24.3,0.8],[24.75,3.2],[25.1,5],[25.5,2.5],[25.9,0.7],[37.2,0.4],[37.5,0.7],[37.8,0.3],[50,0]];
const fitF = [[3.25,170],[3.34,151.7],[3.55,138],[3.77,128],[4.1,118.3],[4.6,115],[5.1,113.3],[5.3,106],[5.45,95],[5.7,83],[5.95,71.7],[6.2,61],[6.46,51.7],[6.8,42],[7.13,35],[7.5,31],[7.97,28.3],[8.3,27],[8.64,25],[9,23],[9.48,20],[10.15,17.5],[10.8,15],[11.8,8.3],[13.2,3.3],[15.2,2.3],[16.5,3],[17.5,4],[18.9,2.3],[21.9,1.7],[23.6,3.3],[24.3,7],[24.9,15],[25.4,23],[25.9,30],[26.4,37.3],[26.9,28.3],[27.4,13.3],[27.9,7],[28.3,5],[30.3,4.3],[31.3,5.7],[33,3.3],[37,1.7],[42,2.3],[44,3],[45.4,4.3],[47.1,1.7],[50,-0.7]];
const expF = [[3,96.7],[3.2,98],[3.44,100],[3.7,104],[3.94,108.3],[4.2,112],[4.44,115],[4.7,117],[4.88,118.3],[5.1,116],[5.28,111.7],[5.45,104],[5.62,95],[5.8,85],[5.95,75],[6.2,65],[6.46,55],[6.7,46],[6.96,38.3],[7.3,33],[7.63,30],[7.95,28],[8.3,26.7],[8.8,25],[9.2,22.5],[9.65,20],[10.2,17.5],[10.8,15],[11.3,12.5],[11.8,10],[12.3,7.8],[12.8,5.7],[13.5,4],[14.2,3.3],[15,3.6],[15.9,4],[16.7,4.8],[17.5,5.7],[18.2,5],[18.9,4.3],[19.7,3.6],[20.6,3],[21.3,3.2],[21.9,3.3],[22.6,4.5],[23.2,6.7],[23.7,9],[24.25,11.7],[24.7,16],[25.1,21.7],[25.45,27],[25.76,31.7],[26.1,36],[26.4,39],[26.65,37],[26.9,33.3],[27.15,27],[27.4,20],[27.65,14],[27.9,10],[28.4,8],[28.9,6.7],[29.6,6.5],[30.3,6.7],[30.9,7.2],[31.5,7.7],[32.2,6.5],[33,5],[34.1,4.6],[35.3,4.3],[36.5,3.6],[37.7,3],[39,3],[40.4,3],[41.5,3.6],[42.7,4.3],[43.7,5],[44.7,5.7],[45.7,5],[46.7,3.5],[47.7,2.3],[48.8,1.6],[50,1]];

// ---------- assemble ----------
const panels = [
  {names: namesAB, curves: [illiteA, issch90A, issch80A, issch50A, issch35A, issch5A, kaolA, klr1A, chloriteA], offsets: offsetsA, fit: fitA, exp: expA},
  {names: namesAB, curves: [illiteB, issch90B, issch80B, issch50B, issch35B, issch5B, kaolB, klr1B, chloriteB], offsets: offsetsB, fit: fitB, exp: expB},
  {names: namesCD, curves: [issch90C, issch80C, issch50C, issch35C, issch5C, kaolC, klr1C, chloriteC], offsets: offsetsC, fit: fitC, exp: expC},
  {names: namesCD, curves: [issch90D, issch80D, issch50D, issch35D, issch5D, kaolD, klr1D, chloriteD], offsets: offsetsD, fit: fitD, exp: expD},
  {names: namesEF, curves: [issch90E, issch50E, issch35E, issch5E, smectiteE, klr1E], offsets: offsetsE, fit: fitE, exp: expE},
  {names: namesEF, curves: [issch90F, issch50F, issch35F, issch5F, smectiteF, klr1F], offsets: offsetsF, fit: fitF, exp: expF}
];

// ---------- layout / style ----------
const FONT = '"Liberation Sans", Arial, Helvetica, sans-serif';
const layout = [
  {left: 16, width: 535, top: 60, axisY: 532, bx: 46, tx: 85, base: 100},
  {left: 633, width: 534, top: 60, axisY: 533, bx: 656, tx: 692, base: 103},
  {left: 21.5, width: 534, top: 600, axisY: 1014, bx: 45, tx: 78, base: 631.5},
  {left: 633, width: 534, top: 600, axisY: 1015, bx: 656, tx: 687, base: 631.5},
  {left: 19, width: 534, top: 1088, axisY: 1476, bx: 45, tx: 88, base: 1116},
  {left: 633, width: 534, top: 1088, axisY: 1475, bx: 663, tx: 697, base: 1116.5}
];
const plusPath = 'path://M4,0H6V4H10V6H6V10H4V6H0V4H4Z';

const grid = [], xAxis = [], yAxis = [], series = [];
panels.forEach((p, i) => {
  const L = layout[i];
  const H = L.axisY - L.top;
  grid.push({left: L.left, top: L.top, width: L.width, height: H, outerBoundsMode: 'none', containLabel: false});
  xAxis.push({
    gridIndex: i, type: 'value', min: 3, max: 50, position: 'bottom',
    axisLine: {show: true, onZero: false, lineStyle: {color: '#000', width: 2}},
    axisTick: {show: true, customValues: majorTicks, length: 7, inside: false, lineStyle: {color: '#000', width: 1.6}},
    axisLabel: {show: true, customValues: tickLabels, fontSize: 35, color: '#333', margin: 8, fontFamily: FONT},
    splitLine: {show: false}
  });
  xAxis.push({
    gridIndex: i, type: 'value', min: 3, max: 50, position: 'bottom', offset: 0,
    axisLine: {show: false},
    axisTick: {show: true, customValues: minorTicks, length: 4, inside: false, lineStyle: {color: '#000', width: 1.4}},
    axisLabel: {show: false}, splitLine: {show: false}
  });
  yAxis.push({gridIndex: i, type: 'value', min: 0, max: H, show: false});
  const xi = 2 * i;
  p.curves.forEach((c, k) => {
    series.push({
      type: 'line', name: 'Phase contribution', xAxisIndex: xi, yAxisIndex: i,
      data: c.map(d => [d[0], d[1] + p.offsets[k]]),
      showSymbol: false, symbol: 'none', smooth: 0.25, z: 2,
      lineStyle: {color: '#000', width: 1.8}, silent: true
    });
  });
  series.push({
    type: 'line', name: 'ref', xAxisIndex: xi, yAxisIndex: i,
    data: [[refLineX, 0], [refLineX, refTops[i]]], symbol: 'none', z: 3,
    lineStyle: {color: '#8a8a8a', width: 3.5}, silent: true
  });
  const thick = i >= 4;
  series.push({
    type: 'line', name: 'Experimental data', xAxisIndex: xi, yAxisIndex: i,
    data: p.exp.map(d => [d[0], d[1] + fitOffsets[i]]),
    symbol: plusPath, symbolSize: thick ? 5 : 7, showSymbol: true, z: 4,
    itemStyle: {color: '#000'}, lineStyle: {color: '#000', width: thick ? 5 : 0.9}, silent: true
  });
  series.push({
    type: 'line', name: 'Best fit', xAxisIndex: xi, yAxisIndex: i,
    data: p.fit.map(d => [d[0], d[1] + fitOffsets[i]]),
    symbol: 'none', smooth: 0.25, z: 5,
    lineStyle: {color: '#ff0000', width: 2.6}, silent: true
  });
});

const chart = echarts.init(document.getElementById('c'), null, {renderer: 'canvas', width: 1195, height: 1571});
chart.setOption({
  animation: false, backgroundColor: '#fff',
  grid, xAxis, yAxis, series
});

// ---------- texts ----------
const g = [];
function txt(x, y, text, size, opts) {
  opts = opts || {};
  g.push({type: 'text', x: x, y: y, z: 100, silent: true, style: {
    text: text, fill: opts.fill || '#000',
    font: (opts.bold ? 'bold ' : '') + size + 'px ' + FONT,
    align: opts.align || 'left', verticalAlign: 'middle',
    textAlign: opts.align || 'left', textVerticalAlign: 'middle'
  }});
}
// legend
[146, 161.5, 178].forEach(cx => {
  g.push({type: 'line', silent: true, shape: {x1: cx - 3.5, y1: 24, x2: cx + 3.5, y2: 24}, style: {stroke: '#000', lineWidth: 1.5}});
  g.push({type: 'line', silent: true, shape: {x1: cx, y1: 20.5, x2: cx, y2: 27.5}, style: {stroke: '#000', lineWidth: 1.5}});
});
txt(191, 24, 'Experimental data', 36);
g.push({type: 'line', silent: true, shape: {x1: 506, y1: 23, x2: 546, y2: 23}, style: {stroke: '#555', lineWidth: 1.5}});
txt(555, 24, 'Phase contribution', 36);
g.push({type: 'line', silent: true, shape: {x1: 880, y1: 23, x2: 920, y2: 23}, style: {stroke: '#ff0000', lineWidth: 1.8}});
txt(930, 24, 'Best fit', 36);
// axis title
txt(584, 1554, '°2Θ CuKα', 36, {align: 'center'});
// panel titles and phase labels
panels.forEach((p, i) => {
  const L = layout[i];
  txt(L.bx, L.base - 10.2, titles[i][0], 33, {bold: true});
  txt(L.tx, L.base - 8.7, titles[i][1], 28);
  p.names.forEach((nm, k) => {
    const pt = chart.convertToPixel({xAxisIndex: 2 * i, yAxisIndex: i}, [50, p.offsets[k]]);
    txt(pt[0], pt[1] - 13.5, nm, 28.5, {align: 'right'});
  });
});
chart.setOption({graphic: {elements: g}});
</script></body></html>
